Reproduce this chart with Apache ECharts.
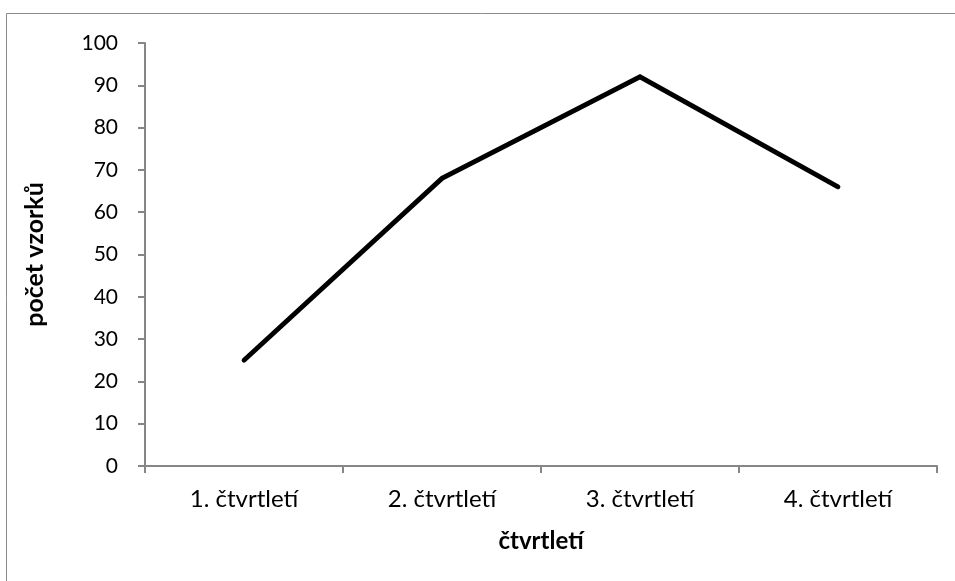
<!DOCTYPE html>
<html>
<head>
<meta charset="utf-8">
<script src="https://cdn.jsdelivr.net/npm/echarts@6/dist/echarts.min.js"></script>
<style>
  html, body { margin: 0; padding: 0; background: #fff; }
  #chart { width: 955px; height: 581px; }
</style>
</head>
<body>
<div id="chart"></div>
<script>
// Quarterly sample counts
const categories = ['1. čtvrtletí', '2. čtvrtletí', '3. čtvrtletí', '4. čtvrtletí'];
const sampleCounts = [25, 68, 92, 66];
const xTitle = 'čtvrtletí';
const yTitle = 'počet vzorků';

const FONT = 'Lato, "Open Sans", sans-serif';
const AXIS_GRAY = '#868686';

const chart = echarts.init(document.getElementById('chart'), null, { renderer: 'canvas' });
chart.setOption({
  animation: false,
  backgroundColor: '#ffffff',
  graphic: [{
    type: 'rect',
    shape: { x: 6.5, y: 13.5, width: 1000, height: 1000 },
    style: { fill: 'none', stroke: '#8c8c8c', lineWidth: 1 },
    silent: true
  }],
  grid: { left: 145, right: 18, top: 43, bottom: 115 },
  xAxis: {
    type: 'category',
    data: categories,
    boundaryGap: true,
    name: xTitle,
    nameLocation: 'middle',
    nameGap: 63,
    nameTextStyle: { fontFamily: FONT, fontSize: 24, fontWeight: 'bold', color: '#000' },
    axisLine: { lineStyle: { color: AXIS_GRAY, width: 2 } },
    axisTick: { show: true, length: 7, alignWithLabel: false, lineStyle: { color: AXIS_GRAY, width: 2 } },
    axisLabel: { fontFamily: FONT, fontSize: 24, color: '#000', margin: 21 },
    splitLine: { show: false }
  },
  yAxis: {
    type: 'value',
    min: 0,
    max: 100,
    interval: 10,
    name: yTitle,
    nameLocation: 'middle',
    nameGap: 98,
    nameRotate: 90,
    nameTextStyle: { fontFamily: FONT, fontSize: 25, fontWeight: 'bold', color: '#000' },
    axisLine: { show: true, lineStyle: { color: AXIS_GRAY, width: 2 } },
    axisTick: { show: true, length: 7, lineStyle: { color: AXIS_GRAY, width: 2 } },
    axisLabel: { fontFamily: FONT, fontSize: 21, color: '#000', margin: 27 },
    splitLine: { show: false }
  },
  series: [{
    type: 'line',
    data: sampleCounts,
    symbol: 'none',
    lineStyle: { color: '#000', width: 4.8, cap: 'round', join: 'miter' }
  }]
});
</script>
</body>
</html>
